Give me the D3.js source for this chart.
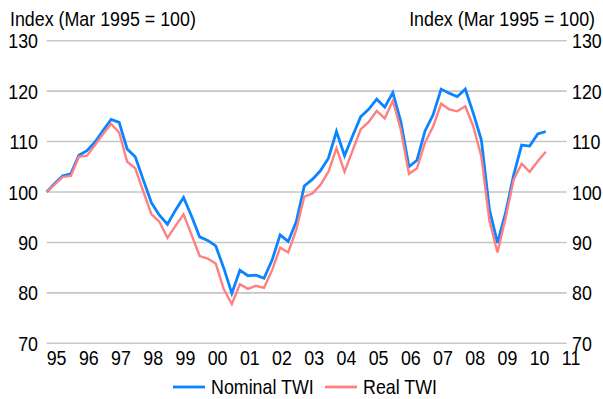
<!DOCTYPE html>
<html>
<head>
<meta charset="utf-8">
<script src="https://cdn.jsdelivr.net/npm/d3@7"></script>
<style>
  html, body { margin: 0; padding: 0; background: #fff; }
  svg { display: block; }
  text { font-family: "Liberation Sans", Arial, sans-serif; fill: #000; }
</style>
</head>
<body>
<svg id="chart" width="603" height="399"></svg>
<script>
// Quarterly trade-weighted index, Mar 1995 .. Sep 2010 (Mar 1995 = 100)
const quarters = d3.range(0, 63);
const nominalTWI = [
  100.0, 101.7, 103.2, 103.6, 107.3, 108.2, 109.9, 112.2, 114.4, 113.8,
  108.5, 107.0, 102.4, 97.9, 95.4, 93.6, 96.4, 98.9, 95.2, 91.1,
  90.4, 89.3, 84.9, 79.9, 84.5, 83.4, 83.5, 82.9, 86.5, 91.5,
  90.2, 94.1, 101.2, 102.5, 104.2, 106.7, 112.0, 107.2, 111.1, 114.9,
  116.4, 118.4, 116.8, 119.7, 113.9, 105.0, 106.3, 112.1, 115.3, 120.4,
  119.6, 118.9, 120.4, 115.6, 110.3, 96.5, 89.9, 95.8, 103.3, 109.3,
  109.1, 111.5, 112.0
];
const realTWI = [
  100.0, 101.5, 103.0, 103.2, 107.0, 107.2, 109.3, 111.5, 113.5, 111.8,
  106.0, 104.7, 100.1, 95.6, 94.1, 90.9, 93.3, 95.6, 91.5, 87.3,
  86.8, 85.8, 80.7, 77.8, 81.7, 80.8, 81.4, 81.0, 84.5, 89.0,
  88.0, 92.5, 99.1, 99.7, 101.4, 104.0, 108.7, 104.0, 108.2, 112.4,
  113.9, 116.1, 114.6, 118.1, 112.3, 103.6, 104.7, 109.8, 113.0, 117.5,
  116.4, 116.0, 117.0, 113.0, 107.0, 94.3, 88.0, 94.8, 102.4, 105.6,
  104.0, 106.1, 108.0
];
const yearLabels = ["95","96","97","98","99","00","01","02","03","04","05","06","07","08","09","10","11"];
const yTicks = [70, 80, 90, 100, 110, 120, 130];
const axisTitle = "Index (Mar 1995 = 100)";
const seriesNames = ["Nominal TWI", "Real TWI"];
const seriesColors = ["#0a84ff", "#ff8080"];

const svg = d3.select("#chart");
const plotLeft = 46.7, plotRight = 566.7, plotTop = 40.7, plotBottom = 343.3;

const x = d3.scaleLinear().domain([0, 64.6]).range([plotLeft, plotRight]);
const y = d3.scaleLinear().domain([70, 130]).range([plotBottom, plotTop]);

// condensed text: glyphs squeezed horizontally around their anchor point
const fs = 21, squeeze = 0.85;
function label(parent, tx, ty, str, anchor, dy) {
  return parent.append("text")
    .attr("transform", `translate(${tx},${ty}) scale(${squeeze},1)`)
    .attr("text-anchor", anchor || "start")
    .attr("dy", dy || 0)
    .attr("font-size", fs)
    .text(str);
}

// horizontal gridlines
svg.append("g").selectAll("line").data(yTicks).join("line")
  .attr("x1", plotLeft).attr("x2", plotRight)
  .attr("y1", d => y(d)).attr("y2", d => y(d))
  .attr("stroke", "#c6c6c6").attr("stroke-width", 1.6);

// left and right value axes
const axL = svg.append("g"), axR = svg.append("g");
yTicks.forEach(v => {
  label(axL, 38, y(v), v, "end", "0.36em");
  label(axR, 572, y(v), v, "start", "0.36em");
});

label(svg, 10, 26, axisTitle, "start");
label(svg, 595, 26, axisTitle, "end");

// year labels, each starting at the March quarter of its year
const xAx = svg.append("g");
yearLabels.forEach((t, i) => label(xAx, x(i * 4), 365, t, "start"));

// series lines
const line = d3.line().x((d, i) => x(quarters[i])).y(d => y(d));
[nominalTWI, realTWI].forEach((s, k) => {
  svg.append("path").datum(s)
    .attr("fill", "none")
    .attr("stroke", seriesColors[k])
    .attr("stroke-width", k === 0 ? 2.8 : 2.4)
    .attr("stroke-linejoin", "miter")
    .attr("d", line);
});

// legend
const legendX = [173, 325];
seriesNames.forEach((name, k) => {
  svg.append("line")
    .attr("x1", legendX[k]).attr("x2", legendX[k] + 32)
    .attr("y1", 387).attr("y2", 387)
    .attr("stroke", seriesColors[k]).attr("stroke-width", 2.8);
  label(svg, legendX[k] + 38, 393.5, name, "start");
});
</script>
</body>
</html>
